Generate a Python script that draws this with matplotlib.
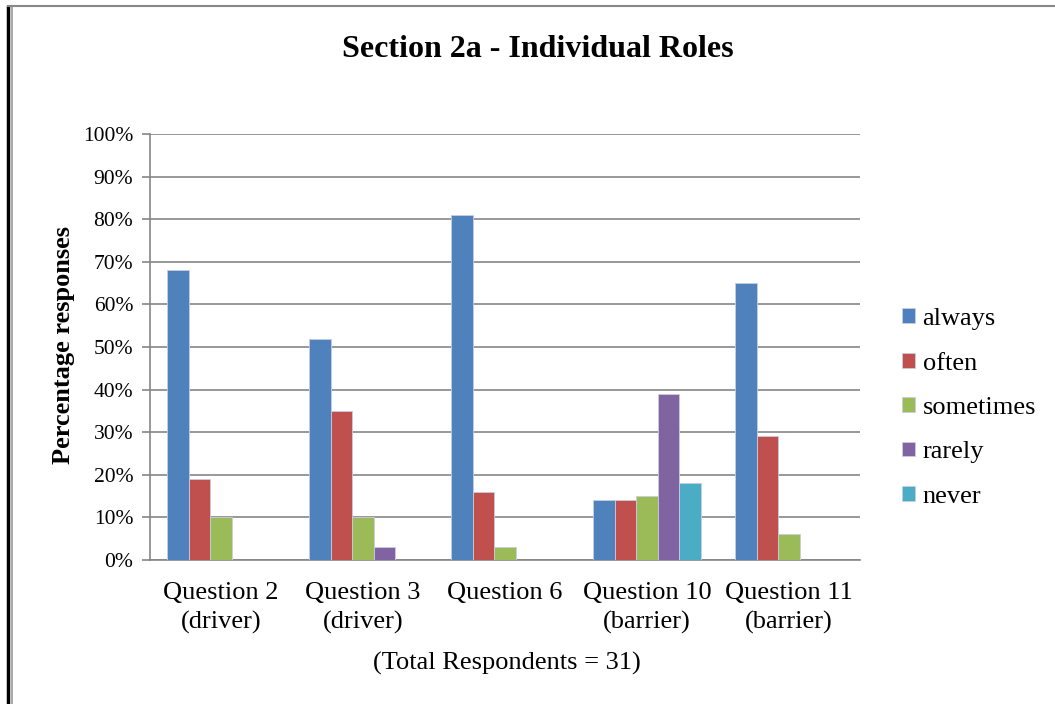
import matplotlib.pyplot as plt
import numpy as np
from matplotlib.lines import Line2D
from matplotlib.ticker import PercentFormatter

plt.rcParams["font.family"] = ["Liberation Serif", "DejaVu Serif"]

categories = ["Question 2\n(driver)", "Question 3\n(driver)", "Question 6",
              "Question 10\n(barrier)", "Question 11\n(barrier)"]
series = ["always", "often", "sometimes", "rarely", "never"]
always = [68, 52, 81, 14, 65]
often = [19, 35, 16, 14, 29]
sometimes = [10, 10, 3, 15, 6]
rarely = [0, 3, 0, 39, 0]
never = [0, 0, 0, 18, 0]
colors = ["#4F81BD", "#C0504D", "#9BBB59", "#8064A2", "#4BACC6"]

values = [always, often, sometimes, rarely, never]

fig = plt.figure(figsize=(10.55, 7.04), dpi=100)
ax = fig.add_axes([0.1422, 0.2045, 0.673, 0.6051])

x = np.arange(len(categories))
width = 0.152
for i, (name, vals, col) in enumerate(zip(series, values, colors)):
    ax.bar(x + (i - 2) * width, vals, width, color=col, label=name,
           edgecolor="#c8cde0", linewidth=0.6, zorder=3)

ax.set_xlim(-0.5, len(categories) - 0.5)
ax.set_ylim(0, 100)
ax.set_yticks(np.arange(0, 101, 10))
ax.yaxis.set_major_formatter(PercentFormatter(decimals=0))
ax.grid(axis="y", color="#868686", linewidth=1.2, zorder=0)
ax.set_xticks(x)
ax.set_xticklabels(categories, fontsize=19, linespacing=1.35)
ax.tick_params(axis="y", labelsize=15.5, length=6, color="#868686", width=1.2, pad=6)
ax.tick_params(axis="x", length=0, pad=16)
for s in ["top", "right"]:
    ax.spines[s].set_visible(False)
for s in ["left", "bottom"]:
    ax.spines[s].set_color("#868686")
    ax.spines[s].set_linewidth(1.2)

fig.text(0.060, 0.51, "Percentage responses", rotation=90, ha="center", va="center",
         fontsize=19, fontweight="bold")
fig.text(0.51, 0.929, "Section 2a - Individual Roles", ha="center", va="center",
         fontsize=23, fontweight="bold")
fig.text(0.48, 0.058, "(Total Respondents = 31)", ha="center", va="center", fontsize=19)

fig.legend(loc="center left", bbox_to_anchor=(0.855, 0.4205), frameon=False,
           fontsize=19, handlelength=0.48, handleheight=0.48, handletextpad=0.3,
           labelspacing=0.85, borderpad=0, borderaxespad=0)

# page frame
fig.add_artist(Line2D([0.0076, 0.0076], [0, 0.99], color="black", lw=2.5))
fig.add_artist(Line2D([0.0114, 0.0114], [0, 0.991], color="#999999", lw=1.2))
fig.add_artist(Line2D([0.0076, 1.0], [0.991, 0.991], color="#888888", lw=1.5))

fig.savefig("out.png", dpi=100)
